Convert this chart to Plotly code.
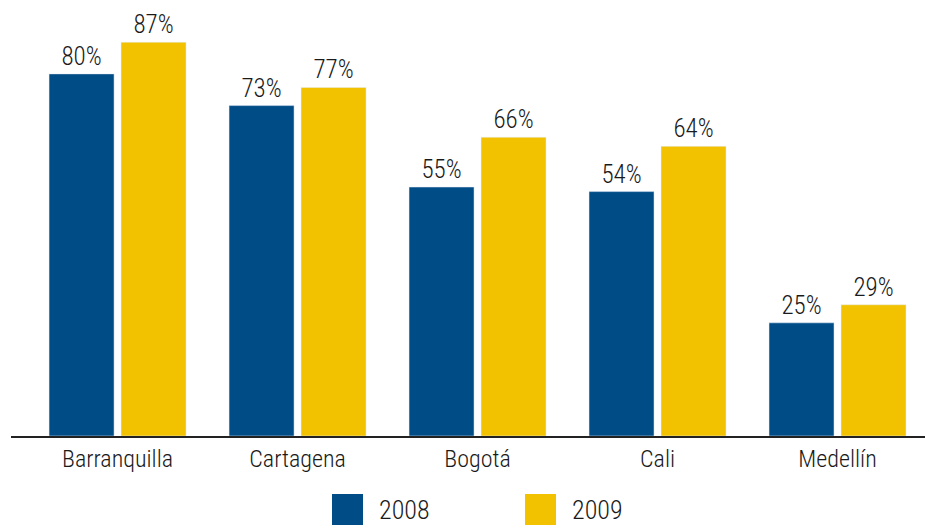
import plotly.graph_objects as go

cities = ["Barranquilla", "Cartagena", "Bogotá", "Cali", "Medellín"]
series_names = ["2008", "2009"]
values_2008 = [80, 73, 55, 54, 25]
values_2009 = [87, 77, 66, 64, 29]
colors = ["#004C87", "#F2C200"]

FONT = "Roboto Condensed, Liberation Sans Narrow, sans-serif"
TXT = "#1a1a1a"
W = 300

fig = go.Figure()
for name, vals, col in zip(series_names, [values_2008, values_2009], colors):
    fig.add_trace(go.Bar(
        x=cities, y=vals, name=name, marker_color=col,
        texttemplate="%{y}%", textposition="outside",
        textfont=dict(family=FONT, size=25, color=TXT, weight=W),
        cliponaxis=False, showlegend=False,
    ))

# custom legend (large square swatches)
leg_x = [0.3512, 0.5624]
for name, col, lx in zip(series_names, colors, leg_x):
    fig.add_shape(type="rect", xref="paper", yref="paper",
                  x0=lx, x1=lx + 0.0339, y0=-0.207, y1=-0.1349,
                  fillcolor=col, line_width=0)
    fig.add_annotation(xref="paper", yref="paper", x=lx + 0.0492, y=-0.173,
                       text=name, showarrow=False, xanchor="left", yanchor="middle",
                       font=dict(family=FONT, size=26, color=TXT, weight=W))

fig.update_layout(
    width=925, height=528,
    margin=dict(l=11, r=0, t=6, b=92),
    paper_bgcolor="white", plot_bgcolor="white",
    barmode="group", bargap=0.2, bargroupgap=0.0972,
    showlegend=False,
    font=dict(family=FONT, color=TXT, weight=W),
)
fig.update_xaxes(range=[-0.592, 4.486], showline=True, linecolor="#222", linewidth=1.5,
                 ticks="", tickfont=dict(family=FONT, size=24, color=TXT, weight=W),
                 showgrid=False, zeroline=False)
fig.update_yaxes(range=[0, 95], visible=False, showgrid=False, zeroline=False)

fig.write_html("out.html", config={"displayModeBar": False},
               post_script="document.body.style.margin='0';")
